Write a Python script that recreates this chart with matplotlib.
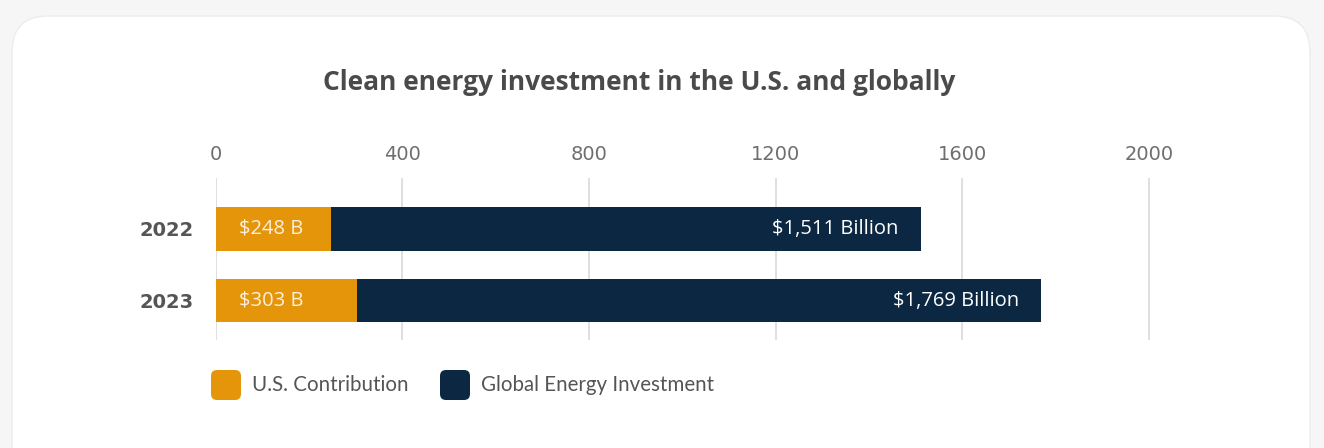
import numpy as np
import matplotlib
matplotlib.use('Agg')
import matplotlib.pyplot as plt
from matplotlib.patches import FancyBboxPatch

# Datos
years = ['2022', '2023']
us_contribution = [248, 303]
global_total = [1511, 1769]
us_labels = ['$248 B', '$303 B']
global_labels = ['$1,511 Billion', '$1,769 Billion']
x_ticks = [0, 400, 800, 1200, 1600, 2000]

orange = '#E5950A'
navy = '#0B2742'
W, H = 1324, 448

fig = plt.figure(figsize=(W / 100, H / 100), dpi=100, facecolor='#f6f6f6')

# Fondo: tarjeta blanca con esquinas redondeadas (en pixeles)
bg = fig.add_axes([0, 0, 1, 1], zorder=-1)
bg.set_xlim(0, W)
bg.set_ylim(H, 0)
bg.axis('off')
bg.add_patch(FancyBboxPatch((12, 16), W - 14 - 12, H + 60,
                            boxstyle='round,pad=0,rounding_size=36',
                            facecolor='white', edgecolor='#ececec', linewidth=1.0))

# Leyenda
legend_items = [('U.S. Contribution', orange, 211), ('Global Energy Investment', navy, 440)]
for label, color, x0 in legend_items:
    bg.add_patch(FancyBboxPatch((x0, 370), 30, 30, boxstyle='round,pad=0,rounding_size=6',
                                facecolor=color, edgecolor='none'))
    bg.text(x0 + 41, 385, label, ha='left', va='center',
            fontsize=14.8, family='Lato', color='#555555')

bg.text(639, 83, 'Clean energy investment in the U.S. and globally',
        ha='center', va='center', fontsize=19, fontweight='bold',
        family='Open Sans', color='#4a4a4a')

ax = fig.add_axes([215.7 / W, (H - 340) / H, 2200 * 0.4667 / W, 162 / H])
ax.set_facecolor('none')

y = np.arange(len(years))
navy_len = np.array(global_total) - np.array(us_contribution)
ax.barh(y, us_contribution, height=0.6, color=orange, zorder=3)
ax.barh(y, navy_len, left=us_contribution, height=0.6, color=navy, zorder=3)

for i in range(len(years)):
    ax.annotate(us_labels[i], (0, y[i]), xytext=(17, 0), textcoords='offset points',
                ha='left', va='center', color='#fcefdc', fontsize=14.5,
                family='Open Sans', zorder=4)
    ax.annotate(global_labels[i], (global_total[i], y[i]), xytext=(-16, 0),
                textcoords='offset points', ha='right', va='center',
                color='white', fontsize=14.5, family='Open Sans', zorder=4)

ax.set_xlim(0, 2200)
ax.set_ylim(1.548, -0.711)
ax.set_xticks(x_ticks)
ax.set_xticklabels([str(t) for t in x_ticks], family='DejaVu Sans', fontsize=14,
                   color='#6e6e6e')
ax.xaxis.tick_top()
ax.tick_params(axis='x', length=0, pad=10)
ax.set_yticks(y)
ax.set_yticklabels(years, family='DejaVu Sans', fontweight='bold', fontsize=14,
                   color='#555555')
ax.tick_params(axis='y', length=0, pad=16)
ax.grid(axis='x', color='#d9d9d9', linewidth=1.2, zorder=0)
for s in ax.spines.values():
    s.set_visible(False)

fig.savefig('out.png', dpi=100, facecolor=fig.get_facecolor())
